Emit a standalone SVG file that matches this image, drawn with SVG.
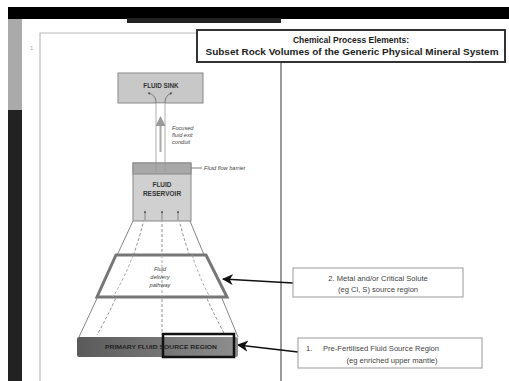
<svg xmlns="http://www.w3.org/2000/svg" width="509" height="381" viewBox="0 0 509 381">
<style>
.t{font-family:"Liberation Sans",Arial,sans-serif;fill:#333}
.b{font-weight:bold}
.i{font-style:italic}
.c{text-anchor:middle}
.thin{fill:none;stroke:#666;stroke-width:0.8}
.dash{fill:none;stroke:#777;stroke-width:0.8;stroke-dasharray:3 2}
.call{fill:#fff;stroke:#999;stroke-width:1}
</style>
<defs>
<marker id="ah" viewBox="0 0 10 10" refX="9" refY="5" markerWidth="7" markerHeight="7" orient="auto"><path d="M0,0 L10,5 L0,10 L3,5 Z" fill="#111"/></marker>
<marker id="sm" viewBox="0 0 10 10" refX="8" refY="5" markerWidth="4" markerHeight="4" orient="auto"><path d="M0,0 L10,5 L0,10 Z" fill="#555"/></marker>
<marker id="up" viewBox="0 0 10 10" refX="8" refY="5" markerWidth="5" markerHeight="5" orient="auto"><path d="M0,0 L10,5 L0,10 Z" fill="#999"/></marker>
<linearGradient id="src" x1="0" x2="1" y1="0" y2="0"><stop offset="0" stop-color="#5a5a5a"/><stop offset="1" stop-color="#8e8e8e"/></linearGradient>
</defs>
<rect width="509" height="381" fill="#fff"/>
<g id="frame">
<rect x="8" y="7" width="501" height="12" fill="#000"/>
<rect x="127" y="18" width="154" height="5" fill="#222"/>
<rect x="8" y="19" width="14" height="91" fill="#aaa"/>
<rect x="8" y="110" width="14" height="271" fill="#222"/>
<path d="M40,381 V33 H197" fill="none" stroke="#bbb" stroke-width="1.2"/>
<line x1="281" y1="62" x2="281" y2="381" stroke="#999" stroke-width="2"/>
<text class="t" x="30" y="50" font-size="6" fill="#aaa" style="fill:#aaa">1</text>
</g>
<g id="title">
<rect x="197" y="30" width="308" height="32" fill="#fff" stroke="#333" stroke-width="2"/>
<text class="t b c" x="351" y="43" font-size="8.5" style="fill:#222">Chemical Process Elements:</text>
<text class="t b c" x="352" y="55" font-size="8.5" textLength="293" lengthAdjust="spacingAndGlyphs" style="fill:#222">Subset Rock Volumes of the Generic Physical Mineral System</text>
</g>
<g id="connectors">
<line class="thin" x1="133" y1="221" x2="79" y2="337"/>
<line class="thin" x1="190" y1="221" x2="238" y2="337"/>
<path class="dash" d="M145,214 C140,240 125,285 97,335"/>
<line class="dash" x1="162" y1="214" x2="162" y2="335"/>
<path class="dash" d="M178,214 C183,240 198,285 225,335"/>
<line x1="293" y1="283" x2="223" y2="279" stroke="#111" stroke-width="1.6" marker-end="url(#ah)"/>
<line x1="298" y1="352" x2="238" y2="345" stroke="#111" stroke-width="1.6" marker-end="url(#ah)"/>
<line x1="191" y1="168" x2="202" y2="168" stroke="#555" stroke-width="0.8"/>
</g>
<g id="fluid-sink">
<rect x="118" y="73" width="85" height="30" fill="#c8c8c8" stroke="#888" stroke-width="1"/>
<text class="t b c" x="161" y="88" font-size="6.3" style="fill:#333">FLUID SINK</text>
<path d="M156,103 C156,97 153,94 148,93" fill="none" stroke="#555" stroke-width="0.7" marker-end="url(#sm)"/>
<path d="M165,103 C165,97 168,94 172,93" fill="none" stroke="#555" stroke-width="0.7" marker-end="url(#sm)"/>
</g>
<g id="conduit">
<rect x="156" y="103" width="9" height="68" fill="#fff" stroke="#999" stroke-width="0.8"/>
<line x1="160.5" y1="152" x2="160.5" y2="118" stroke="#aaa" stroke-width="2" marker-end="url(#up)"/>
<text class="t i" font-size="5.6" style="fill:#444"><tspan x="172" y="130">Focused</tspan><tspan x="172" y="137">fluid exit</tspan><tspan x="172" y="144">conduit</tspan></text>
</g>
<g id="fluid-reservoir">
<rect x="133" y="163" width="58" height="58" fill="#d0d0d0" stroke="#888" stroke-width="1"/>
<rect x="133" y="163" width="58" height="11" fill="#a8a8a8" stroke="#888" stroke-width="1"/>
<line x1="156" y1="163" x2="156" y2="172" stroke="#999" stroke-width="0.8"/>
<line x1="165" y1="163" x2="165" y2="172" stroke="#999" stroke-width="0.8"/>
<text class="t b c" x="162" y="187" font-size="6.5" style="fill:#333">FLUID</text>
<text class="t b c" x="162" y="196" font-size="6.5" style="fill:#333">RESERVOIR</text>
<line x1="145" y1="220" x2="145" y2="211" stroke="#666" stroke-width="0.7" marker-end="url(#sm)"/>
<line x1="162" y1="220" x2="162" y2="211" stroke="#666" stroke-width="0.7" marker-end="url(#sm)"/>
<line x1="178" y1="220" x2="178" y2="211" stroke="#666" stroke-width="0.7" marker-end="url(#sm)"/>
</g>
<g id="fluid-flow-barrier-label">
<text class="t i" x="204" y="170" font-size="5.6" style="fill:#444">Fluid flow barrier</text>
</g>
<g id="fluid-delivery-pathway">
<path d="M116,255 L206,255 L227,297 L97,297 Z" fill="#fff" stroke="#777" stroke-width="3"/>
<path class="dash" d="M133,255 C128,270 120,285 113,297" style="stroke:#999"/>
<line class="dash" x1="162" y1="255" x2="162" y2="297" style="stroke:#999"/>
<path class="dash" d="M192,255 C197,270 203,285 210,297" style="stroke:#999"/>
<text class="t i c" font-size="5.6" style="fill:#444"><tspan x="160" y="271">Fluid</tspan><tspan x="160" y="279">delivery</tspan><tspan x="160" y="287">pathway</tspan></text>
</g>
<g id="primary-fluid-source-region">
<rect x="77" y="337" width="161" height="20" rx="2" fill="url(#src)"/>
<rect x="163" y="334" width="71" height="23" fill="none" stroke="#111" stroke-width="2.5"/>
<text class="t b c" x="161" y="349" font-size="6" textLength="112" lengthAdjust="spacingAndGlyphs" style="fill:#222">PRIMARY FLUID SOURCE REGION</text>
</g>
<g id="callout-2">
<rect class="call" x="293" y="268" width="170" height="29"/>
<text class="t c" x="378" y="281" font-size="7.6" style="fill:#444">2. Metal and/or Critical Solute</text>
<text class="t c" x="378" y="292" font-size="7.6" style="fill:#444">(eg Cl, S) source region</text>
</g>
<g id="callout-1">
<rect class="call" x="298" y="338" width="184" height="30"/>
<text class="t" x="306" y="351" font-size="7.6" style="fill:#444">1.</text>
<text class="t" x="323" y="351" font-size="7.6" style="fill:#444">Pre-Fertilised Fluid Source Region</text>
<text class="t c" x="392" y="363" font-size="7.6" style="fill:#444">(eg enriched upper mantle)</text>
</g>
</svg>
